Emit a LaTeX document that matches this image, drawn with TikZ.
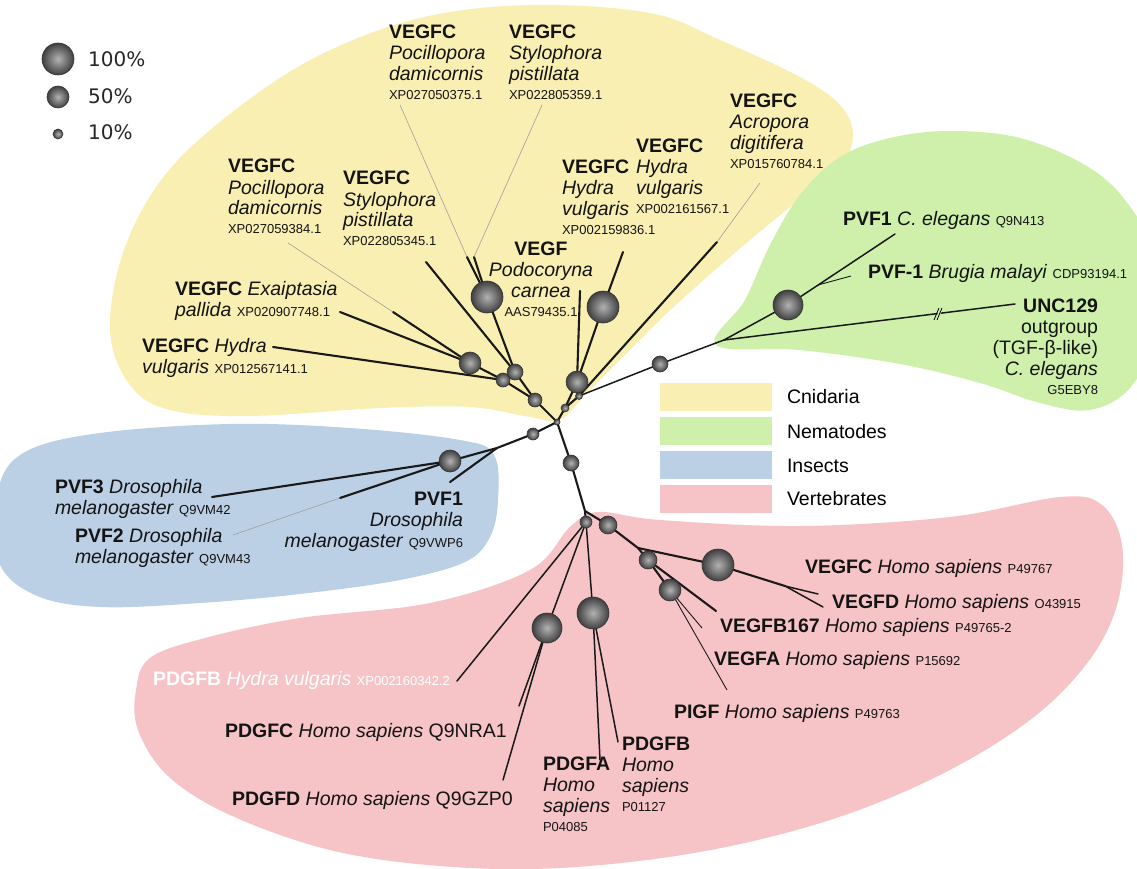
\documentclass[tikz,border=0pt]{standalone}
\usepackage{fontspec}
\setmainfont{Liberation Sans}
\newfontfamily\dejavu{DejaVu Sans}
\usetikzlibrary{calc}
\definecolor{cnid}{RGB}{250,239,178}
\definecolor{nema}{RGB}{206,240,170}
\definecolor{inse}{RGB}{187,207,229}
\definecolor{vert}{RGB}{246,196,199}
\pgfdeclarelayer{bg}
\pgfdeclarelayer{edges}
\pgfsetlayers{bg,edges,main}
\newcommand\mainsz{\fontsize{19.5}{21}\selectfont}
\newcommand\accsz{\fontsize{13}{15}\selectfont}
\newcommand\nm[1]{\textbf{#1}}
\newcommand\acc[1]{{\accsz #1}}
\newcommand\Lcol[1]{\vtop{\baselineskip=21pt\lineskiplimit=-20pt\halign{##\hfil\cr#1\crcr}}}
\newcommand\Rcol[1]{\vtop{\baselineskip=21pt\lineskiplimit=-20pt\halign{\hfil##\cr#1\crcr}}}
\newcommand\Ccol[1]{\vtop{\baselineskip=21pt\lineskiplimit=-20pt\halign{\hfil##\hfil\cr#1\crcr}}}
\newcommand\accgap{\noalign{\vskip-2pt}}
\begin{document}
\begin{tikzpicture}[x=1pt,y=-1pt,
  bnode/.style={circle, draw=black!80, line width=0.6pt, inner sep=0pt, outer sep=0pt,
    inner color=gray!60!white, outer color=black!75, minimum size=#1},
  lbl/.style={inner sep=0pt, outer sep=0pt, font=\mainsz, text=black!92},
  br/.style={line width=2.1pt, line cap=round, black!90},
  brm/.style={line width=1.5pt, line cap=round, black!90},
  brs/.style={line width=0.9pt, black!90},
  thin/.style={line width=0.6pt, gray!75},
  legbox/.style={minimum width=112pt, minimum height=28pt, inner sep=0pt, outer sep=0pt},
  legtxt/.style={inner sep=0pt, outer sep=0pt, font=\mainsz, anchor=base west}
]
\useasboundingbox (0,0) rectangle (1137,869);
\begin{pgfonlayer}{bg}
\fill[white] (0,0) rectangle (1137,869);
\begin{scope}
\clip (0,0) rectangle (1137,869);
% Cnidaria
\fill[cnid] plot[smooth cycle, tension=0.6] coordinates {
 (110,330) (124,250) (165,175) (235,110) (320,55) (420,18) (530,5) (650,13) (720,40)
 (800,77) (840,105) (853,135) (840,167) (795,203) (750,240) (707,277) (665,315)
 (620,360) (587,393) (560,420) (530,417) (470,407) (380,408) (250,416) (170,410) (130,385)};
% Nematodes
\fill[nema] plot[smooth cycle, tension=0.6] coordinates {
 (716,345) (745,300) (770,245) (800,195) (840,157) (890,138) (950,131) (1020,138)
 (1085,165) (1125,200) (1150,250) (1150,340) (1130,388) (1090,410) (1040,403)
 (980,383) (900,364) (800,350)};
% Insects
\fill[inse] plot[smooth cycle, tension=0.6] coordinates {
 (25,452) (100,433) (230,424) (350,428) (460,440) (494,455) (498,500) (490,537)
 (465,562) (400,580) (300,594) (200,603) (100,607) (35,595) (-2,560) (-2,490)};
% Vertebrates
\fill[vert] plot[smooth cycle, tension=0.6] coordinates {
 (150,658) (205,638) (300,618) (430,603) (530,570) (570,527) (598,512) (660,520)
 (800,526) (950,517) (1060,497) (1102,505) (1122,545) (1117,605) (1088,662) (1030,720)
 (940,775) (830,820) (700,852) (560,868) (440,866) (330,850) (230,815) (168,776)
 (138,730) (136,690)};
\end{scope}
\end{pgfonlayer}

% legend
\node[bnode=32] (k100) at (58,59) {};
\node[bnode=22] (k50) at (58,97) {};
\node[bnode=10] (k10) at (58,134) {};
\node[inner sep=0pt, anchor=base west, font=\dejavu\fontsize{20}{24}\selectfont, text=black!85] (t100) at (88,67) {100\%};
\node[inner sep=0pt, anchor=base west, font=\dejavu\fontsize{20}{24}\selectfont, text=black!85] (t50) at (88,104) {50\%};
\node[inner sep=0pt, anchor=base west, font=\dejavu\fontsize{20}{24}\selectfont, text=black!85] (t10) at (88,140) {10\%};

\node[legbox, fill=cnid, anchor=north west] (lb1) at (660,383) {};
\node[legbox, fill=nema, anchor=north west] (lb2) at (660,417) {};
\node[legbox, fill=inse, anchor=north west] (lb3) at (660,451) {};
\node[legbox, fill=vert, anchor=north west] (lb4) at (660,485) {};
\node[legtxt] (lt1) at (787,403) {Cnidaria};
\node[legtxt] (lt2) at (787,438) {Nematodes};
\node[legtxt] (lt3) at (787,472) {Insects};
\node[legtxt] (lt4) at (787,505) {Vertebrates};

% tree nodes
\node[bnode=6] (C0) at (557,422) {};
\node[bnode=14] (N1) at (535,400) {};
\node[bnode=14] (N3) at (503,380) {};
\node[bnode=16] (N2) at (515,372) {};
\node[bnode=22] (B2) at (470,363) {};
\node[bnode=32] (B1) at (487,297) {};
\node[bnode=8] (S1) at (565,408) {};
\node[bnode=22] (C1) at (577,382) {};
\node[bnode=7] (S2) at (579,396) {};
\node[bnode=32] (B3) at (603,307) {};
\node[bnode=16] (G0) at (660,364) {};
\node[bnode=30] (G1) at (788,305) {};
\node[bnode=12] (I1) at (533,434) {};
\node[bnode=22] (I2) at (450,461) {};
\node[bnode=16] (V0) at (571,463) {};
\node[bnode=12] (V1) at (586,522) {};
\node[bnode=18] (V2) at (608,525) {};
\node[bnode=30] (V3) at (547,628) {};
\node[bnode=32] (V4) at (593,613) {};
\node[bnode=18] (V6) at (648,560) {};
\node[bnode=32] (V5) at (718,565) {};
\node[bnode=22] (V7) at (670,590) {};

% leaf and junction coordinates
\coordinate (lHyd1) at (273,347);
\coordinate (lExa) at (340,312);
\coordinate (kPoc2) at (393,312);
\coordinate (lPoc2) at (288,243);
\coordinate (lSty2) at (426,262);
\coordinate (kPoc1) at (467,257);
\coordinate (lPoc1) at (400,105);
\coordinate (kSty1) at (474,257);
\coordinate (lSty1) at (542,105);
\coordinate (lPod) at (580,291);
\coordinate (lHyd2) at (623,252);
\coordinate (kAcr) at (717,242);
\coordinate (lAcr) at (760,183);
\coordinate (GJ) at (724,340);
\coordinate (lPVFc) at (895,234);
\coordinate (jBru) at (818,285);
\coordinate (lBru) at (851,276);
\coordinate (lUNC) at (1015,304);
\coordinate (brk) at (938,314);
\coordinate (IJ) at (497,448);
\coordinate (lPVF3) at (212,497);
\coordinate (kPVF2) at (340,498);
\coordinate (lPVF2) at (233,535);
\coordinate (lPVF1d) at (450,482);
\coordinate (VJ) at (585,511);
\coordinate (lPhyd) at (457,681);
\coordinate (lPDC) at (519,706);
\coordinate (lPDD) at (503,780);
\coordinate (lPDA) at (600,760);
\coordinate (lPDB) at (618,742);
\coordinate (VJ2) at (638,548);
\coordinate (jVCD) at (785,586);
\coordinate (lVC) at (818,594);
\coordinate (lVD) at (823,607);
\coordinate (lVB) at (716,611);
\coordinate (lVA) at (702,628);
\coordinate (lPI) at (727,690);

\begin{pgfonlayer}{edges}
% Cnidaria
\draw[br] (C0.center) -- (N1.center);
\draw[br] (N1.center) -- (N2.center);
\draw[br] (N1.center) -- (N3.center);
\draw[br] (N3.center) -- (B2.center);
\draw[br] (N3.center) -- (lHyd1);
\draw[br] (B2.center) -- (lExa);
\draw[br] (B2.center) -- (kPoc2);
\draw[thin] (kPoc2) -- (lPoc2);
\draw[br] (N2.center) -- (lSty2);
\draw[br] (N2.center) -- (B1.center);
\draw[br] (B1.center) -- (kPoc1);
\draw[br] (B1.center) -- (kSty1);
\draw[thin] (kPoc1) -- (lPoc1);
\draw[thin] (kSty1) -- (lSty1);
\draw[br] (C0.center) -- (S1.center);
\draw[br] (S1.center) -- (C1.center);
\draw[br] (S1.center) -- (S2.center);
\draw[br] (C1.center) -- (lPod);
\draw[br] (C1.center) -- (B3.center);
\draw[br] (B3.center) -- (lHyd2);
\draw[br] (S2.center) -- (kAcr);
\draw[thin] (kAcr) -- (lAcr);
% Nematodes
\draw[brm] (S2.center) -- (G0.center);
\draw[brm] (G0.center) -- (GJ);
\draw[brm] (GJ) -- (G1.center);
\draw[brm] (G1.center) -- (lPVFc);
\draw[brs] (jBru) -- (lBru);
\draw[brm] (GJ) -- (lUNC);
\fill[nema] ($(brk)+(-3,6)$) -- ($(brk)+(2,-6)$) -- ($(brk)+(5,-6)$) -- ($(brk)+(0,6)$) -- cycle;
\draw[line width=0.8pt] ($(brk)+(-4,6)$) -- ($(brk)+(1,-6)$);
\draw[line width=0.8pt] ($(brk)+(-1,6)$) -- ($(brk)+(4,-6)$);
% Insects
\draw[br] (C0.center) -- (I1.center);
\draw[br] (I1.center) -- (IJ);
\draw[br] (IJ) -- (I2.center);
\draw[br] (IJ) -- (lPVF1d);
\draw[br] (I2.center) -- (lPVF3);
\draw[br] (I2.center) -- (kPVF2);
\draw[thin] (kPVF2) -- (lPVF2);
% Vertebrates
\draw[br] (C0.center) -- (V0.center);
\draw[br] (V0.center) -- (VJ);
\draw[br] (VJ) -- (V1.center);
\draw[br] (VJ) -- (V2.center);
\draw[brm] (V1.center) -- (lPhyd);
\draw[brm] (V1.center) -- (V3.center);
\draw[brm] (V1.center) -- (V4.center);
\draw[brm] (V3.center) -- (lPDC);
\draw[brm] (V3.center) -- (lPDD);
\draw[brm] (V4.center) -- (lPDA);
\draw[brm] (V4.center) -- (lPDB);
\draw[br] (V2.center) -- (VJ2);
\draw[br] (VJ2) -- (V5.center);
\draw[br] (VJ2) -- (V6.center);
\draw[br] (V5.center) -- (jVCD);
\draw[brm] (jVCD) -- (lVC);
\draw[brm] (jVCD) -- (lVD);
\draw[br] (V6.center) -- (lVB);
\draw[br] (V6.center) -- (V7.center);
\draw[brs] (V7.center) -- (lVA);
\draw[brs] (V7.center) -- (lPI);
\end{pgfonlayer}

% Cnidaria labels
\node[lbl, anchor=base west] (tPoc1) at (389,39) {\Lcol{\nm{VEGFC}\cr\textit{Pocillopora}\cr\textit{damicornis}\cr\accgap\acc{XP027050375.1}}};
\node[lbl, anchor=base west] (tSty1) at (509,39) {\Lcol{\nm{VEGFC}\cr\textit{Stylophora}\cr\textit{pistillata}\cr\accgap\acc{XP022805359.1}}};
\node[lbl, anchor=base west] (tPoc2) at (228,173) {\Lcol{\nm{VEGFC}\cr\textit{Pocillopora}\cr\textit{damicornis}\cr\accgap\acc{XP027059384.1}}};
\node[lbl, anchor=base west] (tSty2) at (343,185) {\Lcol{\nm{VEGFC}\cr\textit{Stylophora}\cr\textit{pistillata}\cr\accgap\acc{XP022805345.1}}};
\node[lbl, anchor=base west] (tExa) at (175,295) {\Lcol{\nm{VEGFC} \textit{Exaiptasia}\cr\textit{pallida} \acc{XP020907748.1}}};
\node[lbl, anchor=base west] (tHyd1) at (142,352) {\Lcol{\nm{VEGFC} \textit{Hydra}\cr\textit{vulgaris} \acc{XP012567141.1}}};
\node[lbl, anchor=base] (tPod) at (541,255) {\Ccol{\nm{VEGF}\cr\textit{Podocoryna}\cr\textit{carnea}\cr\accgap\acc{AAS79435.1}}};
\node[lbl, anchor=base west] (tHyd2) at (562,174) {\Lcol{\nm{VEGFC}\cr\textit{Hydra}\cr\textit{vulgaris}\cr\accgap\acc{XP002159836.1}}};
\node[lbl, anchor=base west] (tHyd3) at (636,153) {\Lcol{\nm{VEGFC}\cr\textit{Hydra}\cr\textit{vulgaris}\cr\accgap\acc{XP002161567.1}}};
\node[lbl, anchor=base west] (tAcr) at (730,108) {\Lcol{\nm{VEGFC}\cr\textit{Acropora}\cr\textit{digitifera}\cr\accgap\acc{XP015760784.1}}};
% Nematode labels
\node[lbl, anchor=base west] (tPVFc) at (843,225) {\nm{PVF1} \textit{C. elegans} \acc{Q9N413}};
\node[lbl, anchor=base west] (tBru) at (868,278) {\nm{PVF-1} \textit{Brugia malayi} \acc{CDP93194.1}};
\node[lbl, anchor=base east] (tUNC) at (1098,312) {\Rcol{\nm{UNC129}\cr outgroup\cr (TGF-β-like)\cr\textit{C. elegans}\cr\accgap\acc{G5EBY8}}};
% Insect labels
\node[lbl, anchor=base west] (tPVF3) at (55,493) {\Lcol{\nm{PVF3} \textit{Drosophila}\cr\textit{melanogaster} \acc{Q9VM42}}};
\node[lbl, anchor=base west] (tPVF2) at (75,542) {\Lcol{\nm{PVF2} \textit{Drosophila}\cr\textit{melanogaster} \acc{Q9VM43}}};
\node[lbl, anchor=base east] (tPVF1d) at (463,505) {\Rcol{\nm{PVF1}\cr\textit{Drosophila}\cr\textit{melanogaster} \acc{Q9VWP6}}};
% Vertebrate labels
\node[lbl, anchor=base west, text=white] (tPhyd) at (153,685) {\nm{PDGFB} \textit{Hydra vulgaris} \acc{XP002160342.2}};
\node[lbl, anchor=base west] (tPDC) at (225,737) {\nm{PDGFC} \textit{Homo sapiens} Q9NRA1};
\node[lbl, anchor=base west] (tPDD) at (232,805) {\nm{PDGFD} \textit{Homo sapiens} Q9GZP0};
\node[lbl, anchor=base west] (tPDA) at (543,770) {\Lcol{\nm{PDGFA}\cr\textit{Homo}\cr\textit{sapiens}\cr\accgap\acc{P04085}}};
\node[lbl, anchor=base west] (tPDB) at (622,750) {\Lcol{\nm{PDGFB}\cr\textit{Homo}\cr\textit{sapiens}\cr\accgap\acc{P01127}}};
\node[lbl, anchor=base west] (tVC) at (805,573) {\nm{VEGFC} \textit{Homo sapiens} \acc{P49767}};
\node[lbl, anchor=base west] (tVD) at (832,608) {\nm{VEGFD} \textit{Homo sapiens} \acc{O43915}};
\node[lbl, anchor=base west] (tVB) at (720,632) {\nm{VEGFB167} \textit{Homo sapiens} \acc{P49765-2}};
\node[lbl, anchor=base west] (tVA) at (714,665) {\nm{VEGFA} \textit{Homo sapiens} \acc{P15692}};
\node[lbl, anchor=base west] (tPI) at (674,718) {\nm{PIGF} \textit{Homo sapiens} \acc{P49763}};
\end{tikzpicture}
\end{document}
